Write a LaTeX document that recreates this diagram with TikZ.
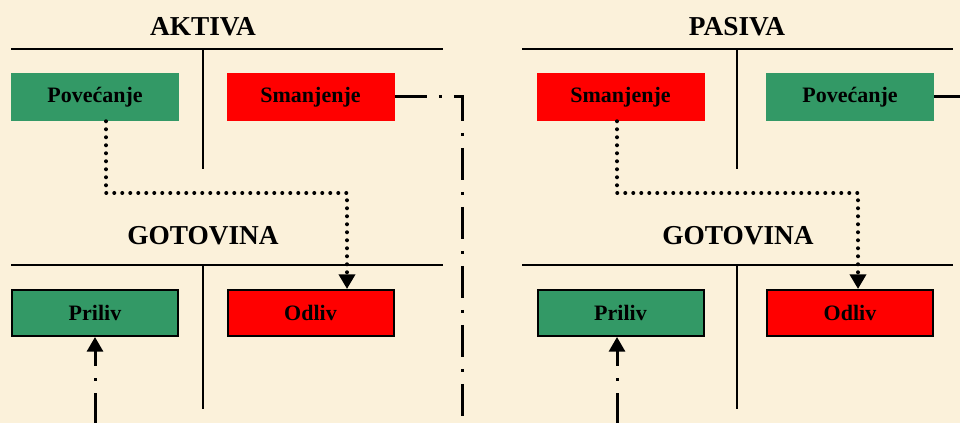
\documentclass[tikz,border=0pt]{standalone}
\usepackage{fontspec}
\setmainfont{Liberation Serif}
\usetikzlibrary{arrows.meta}

\definecolor{paper}{RGB}{251,241,218}
\definecolor{plus}{RGB}{51,153,102}
\definecolor{minus}{RGB}{255,0,0}

\def\boxwidth{126pt}
\def\boxheight{36pt}

\begin{document}
\begin{tikzpicture}[x=0.75pt,y=-0.75pt,>={Triangle[width=12pt,length=11pt]}]
  \tikzstyle{account}=[font=\fontsize{20.5}{24}\selectfont\bfseries]
  \tikzstyle{entry}=[minimum width=\boxwidth,minimum height=\boxheight,inner sep=0pt,font=\fontsize{16.5}{20}\selectfont\bfseries]
  \tikzstyle{increase}=[entry,fill=plus]
  \tikzstyle{decrease}=[entry,fill=minus]
  \tikzstyle{cash}=[draw=black,line width=1.5pt,minimum width=124.5pt,minimum height=34.5pt]
  \tikzstyle{tline}=[line width=1.5pt]
  \tikzstyle{dotline}=[line width=3pt,line cap=round,dash pattern=on 0pt off 6pt]
  \tikzstyle{dashdot}=[line width=2.25pt,dash pattern=on 24pt off 9pt on 2.25pt off 9pt]

  % Paper background
  \fill[paper] (0,0) rectangle (960,423);
  \useasboundingbox (0,0) rectangle (960,423);

  % Draw the T-accounts
  \foreach \l/\m/\r/\t/\b in {11/203/443/49/169, 522/737/953/49/169,
                               11/203/443/265/409, 522/737/953/265/409}
      \draw[tline] (\l,\t) -- (\r,\t) (\m,\t) -- (\m,\b);

  \node[account] (aktiva) at (203,27) {AKTIVA};
  \node[account] (pasiva) at (737,27) {PASIVA};
  \node[account] (gotL) at (203,236) {GOTOVINA};
  \node[account] (gotR) at (738,236) {GOTOVINA};

  % Entries on the left side
  \node[increase] (povL) at (95,97) {Povećanje};
  \node[decrease] (smanL) at (310.5,97) {Smanjenje};
  \node[increase,cash] (prilL) at (95,313) {Priliv};
  \node[decrease,cash] (odlL) at (310.5,313) {Odliv};

  % Entries on the right side
  \node[decrease] (smanR) at (620.5,97) {Smanjenje};
  \node[increase] (povR) at (850,97) {Povećanje};
  \node[increase,cash] (prilR) at (620.5,313) {Priliv};
  \node[decrease,cash] (odlR) at (850,313) {Odliv};

  % Bends and loose ends of the flows
  \coordinate (dotL1) at (106,193);
  \coordinate (dotL2) at (347,193);
  \coordinate (dotR1) at (617,193);
  \coordinate (dotR2) at (858,193);
  \coordinate (turn) at (462,97);
  \coordinate (downL) at (462,425);
  \coordinate (inL) at (95,425);
  \coordinate (inR) at (617,425);
  \coordinate (edge) at (962,97);

  % Increase of assets / decrease of liabilities leads to an outflow
  \draw[dotline,->] (povL.south -| dotL1) -- (dotL1) -- (dotL2) -- (dotL2 |- odlL.north);
  \draw[dotline,->] (smanR.south -| dotR1) -- (dotR1) -- (dotR2) -- (dotR2 |- odlR.north);

  % Decrease of assets / increase of liabilities leads to an inflow
  \draw[dashdot] (smanL.east) -- (turn) -- (downL);
  \draw[dashdot] (povR.east) -- (povR.east -| edge);
  \draw[dashdot,->] (inL) -- (prilL.south);
  \draw[dashdot,->] (inR) -- (prilR.south -| inR);
\end{tikzpicture}
\end{document}
